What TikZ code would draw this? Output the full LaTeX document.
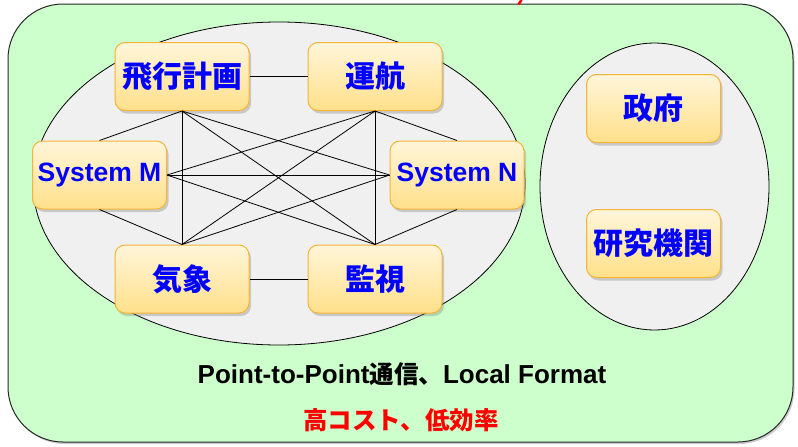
\documentclass[tikz,border=0pt]{standalone}
\usepackage{fontspec}
\setmainfont{Liberation Sans}
\newfontfamily\cjk{Noto Sans CJK JP}
\usetikzlibrary{shadows}
\definecolor{bggreen}{HTML}{CCFFCC}
\definecolor{ellgray}{HTML}{F0F0F0}
\definecolor{boxborder}{HTML}{F5B436}
\definecolor{boxtop}{HTML}{FFF5DA}
\definecolor{boxbot}{HTML}{FFE08A}
\definecolor{txtblue}{HTML}{0000FF}
\begin{document}
\begin{tikzpicture}[x=1pt,y=-1pt,
  sysbox/.style={draw=boxborder, line width=1pt, rounded corners=10pt,
    top color=boxtop, bottom color=boxbot,
    minimum width=134pt, minimum height=68pt, inner sep=0pt,
    drop shadow={shadow xshift=2pt, shadow yshift=-3pt, opacity=0.35},
    text=txtblue, font=\bfseries\fontsize{26.5}{28}\selectfont},
  cjkbox/.style={sysbox, font=\cjk\bfseries\fontsize{30}{32}\selectfont},
  link/.style={draw=black, line width=0.8pt},
  region/.style={draw=black, line width=0.8pt, fill=ellgray}
]
\useasboundingbox (0,0) rectangle (798,447);
% outer green panel
\draw[fill=bggreen, draw=black!85, line width=1pt, rounded corners=55pt,
  drop shadow={shadow xshift=1.5pt, shadow yshift=-2pt, opacity=0.4}]
  (8,4) rectangle (793,442);
% cut-off fragment of red title at top edge
\draw[red, line width=2.6pt] (521.5,0) -- (518.5,4.5);
% grey regions
\draw[region] (279,183.5) ellipse [x radius=246pt, y radius=161.5pt];
\draw[region] (654.5,186.5) ellipse [x radius=114.5pt, y radius=143.5pt];
% nodes
\node[cjkbox] (fp) at (182,76.5) {飛行計画};
\node[cjkbox] (op) at (375,76.5) {運航};
\node[sysbox] (sm) at (99.5,175) {System M};
\node[sysbox] (sn) at (457,175) {System N};
\node[cjkbox] (wx) at (182,279) {気象};
\node[cjkbox] (sv) at (375,279) {監視};
\node[cjkbox] (gov) at (653.5,108.5) {政府};
\node[cjkbox] (res) at (653.5,243.5) {研究機関};
% mesh of links
\draw[link] (fp.east) -- (op.west);
\draw[link] (wx.east) -- (sv.west);
\draw[link] (fp.south) -- (sm.north);
\draw[link] (fp.south) -- (wx.north);
\draw[link] (fp.south) -- (sn.west);
\draw[link] (fp.south) -- (sv.north);
\draw[link] (op.south) -- (sm.east);
\draw[link] (op.south) -- (sn.north);
\draw[link] (op.south) -- (wx.north);
\draw[link] (op.south) -- (sv.north);
\draw[link] (sm.east) -- (sn.west);
\draw[link] (sm.south) -- (wx.north);
\draw[link] (sm.east) -- (sv.north);
\draw[link] (sn.west) -- (wx.north);
\draw[link] (sn.south) -- (sv.north);
% captions
\node[font=\bfseries\fontsize{26}{28}\selectfont, inner sep=0pt] (cap1) at (402,374)
  {Point-to-Point{\cjk\bfseries\fontsize{24.5}{28}\selectfont 通信、}Local Format};
\node[font=\cjk\bfseries\fontsize{24.5}{27}\selectfont, text=red, inner sep=0pt] (cap2) at (401,420)
  {高コスト、低効率};
\end{tikzpicture}
\end{document}
